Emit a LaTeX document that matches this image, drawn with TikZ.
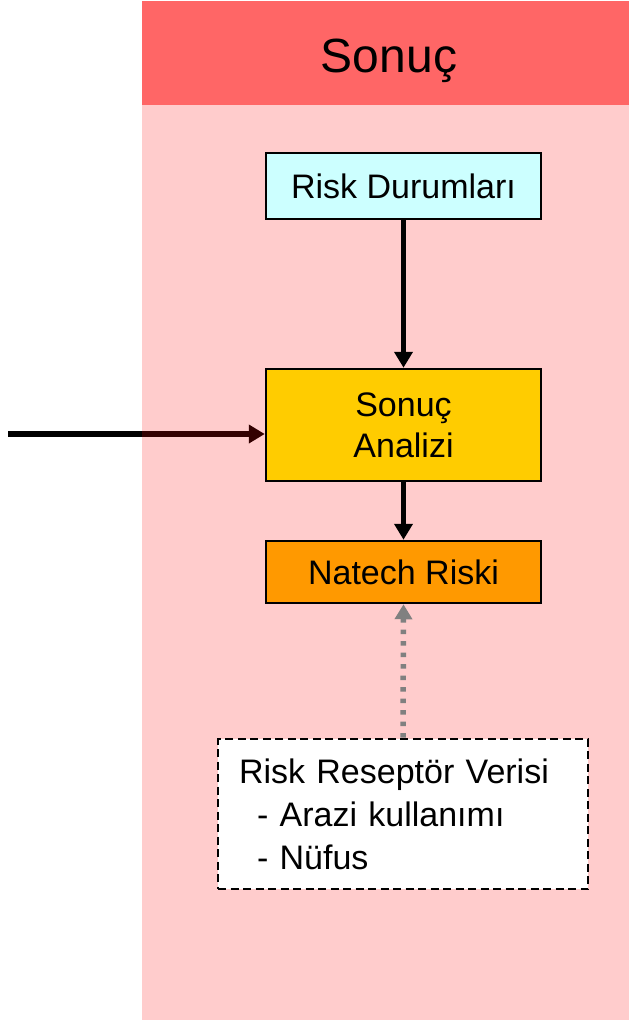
\documentclass[tikz,border=0pt]{standalone}
\usepackage{fontspec}
\setmainfont{Liberation Sans}
\usetikzlibrary{arrows.meta}
\pgfdeclarelayer{base}
\pgfdeclarelayer{panel}
\pgfsetlayers{base,panel,main}
\definecolor{headred}{HTML}{FF6666}
\definecolor{boxcyan}{HTML}{CCFFFF}
\definecolor{boxyellow}{HTML}{FFCC00}
\definecolor{boxorange}{HTML}{FF9900}
\definecolor{dotgray}{HTML}{808080}
\tikzset{
  flowbox/.style={draw=black, line width=2.5pt, minimum width=275pt, inner sep=0pt,
    align=center, font=\fontsize{34}{41}\selectfont},
  flowarrow/.style={line width=5.2pt, -{Triangle[length=16pt,width=18pt]}},
  dotarrow/.style={draw=dotgray, line width=5.5pt, dash pattern=on 4.5pt off 7pt,
    -{Triangle[length=15pt,width=17pt,fill=dotgray]}},
}
\begin{document}
\begin{tikzpicture}[x=1pt,y=-1pt]
\useasboundingbox (0,0) rectangle (629,1020);

% translucent red column with its title band
\begin{pgfonlayer}{panel}
  \fill[red, opacity=0.2] (142,1) rectangle (629,1020);
  \fill[headred] (142,1) rectangle (629,105);
\end{pgfonlayer}
\node[anchor=base, font=\fontsize{48}{56}\selectfont] (title) at (389,72) {Sonuç};

% process boxes
\node[flowbox, fill=boxcyan, minimum height=66pt] (rd) at (403.5,186) {Risk Durumları};
\node[flowbox, fill=boxyellow, minimum height=112pt] (sa) at (403.5,425) {Sonuç\\Analizi};
\node[flowbox, fill=boxorange, minimum height=62pt] (nr) at (403.5,572) {Natech Riski};
\node[draw=black, fill=white, line width=2.8pt, dash pattern=on 8pt off 4.5pt,
  minimum width=370pt, minimum height=150pt, text width=328pt, inner xsep=21pt,
  align=left, font=\fontsize{34}{43}\selectfont] (rr) at (403,814)
  {Risk Reseptör Verisi\\\hspace*{18pt}- Arazi kullanımı\\\hspace*{18pt}- Nüfus};

% connectors
\coordinate (src) at (8,434);
\begin{pgfonlayer}{base}
  \draw[flowarrow] (src) -- (sa.west |- src);
\end{pgfonlayer}
\draw[flowarrow] (rd.south) -- (sa.north);
\draw[flowarrow] (sa.south) -- (nr.north);
\draw[dotarrow] (rr.north) -- (nr.south);
\end{tikzpicture}
\end{document}
